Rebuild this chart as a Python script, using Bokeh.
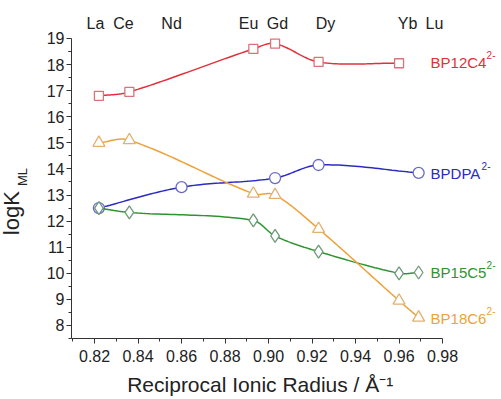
import numpy as np
from bokeh.plotting import figure
from bokeh.layouts import row
from bokeh.models import FixedTicker, Label
from bokeh.embed import file_html
from bokeh.resources import INLINE

# ---- data ----
elements = ["La", "Ce", "Nd", "Eu", "Gd", "Dy", "Yb", "Lu"]
element_label_x = [0.8204, 0.8333, 0.8554, 0.8908, 0.9041, 0.9262, 0.9639, 0.9763]

bp12c4_x = [0.822, 0.836, 0.893, 0.903, 0.923, 0.960]
bp12c4_y = [16.8, 16.95, 18.6, 18.8, 18.1, 18.05]

bpdpa_x = [0.822, 0.860, 0.903, 0.923, 0.969]
bpdpa_y = [12.5, 13.3, 13.65, 14.15, 13.85]

bp15c5_x = [0.822, 0.836, 0.893, 0.903, 0.923, 0.960, 0.969]
bp15c5_y = [12.5, 12.33, 12.03, 11.43, 10.83, 10.0, 10.03]

bp18c6_x = [0.822, 0.836, 0.893, 0.903, 0.923, 0.960, 0.969]
bp18c6_y = [15.0, 15.1, 13.05, 13.0, 11.7, 8.95, 8.3]

x_ticks = [0.82, 0.84, 0.86, 0.88, 0.90, 0.92, 0.94, 0.96, 0.98]
y_ticks = list(range(8, 20))

FONT = "Liberation Sans"
INK = "#222222"
NBSP = "\u00a0"
H = 399
W_TITLE = 30


def smooth(xs, ys, n=30):
    """Cubic Hermite path through the points (drawing only)."""
    xs = np.asarray(xs, float)
    ys = np.asarray(ys, float)
    m = np.zeros_like(ys)
    for i in range(len(xs)):
        if i == 0:
            m[i] = (ys[1] - ys[0]) / (xs[1] - xs[0])
        elif i == len(xs) - 1:
            m[i] = (ys[-1] - ys[-2]) / (xs[-1] - xs[-2])
        else:
            m[i] = (ys[i + 1] - ys[i - 1]) / (xs[i + 1] - xs[i - 1])
    px, py = [], []
    for i in range(len(xs) - 1):
        h = xs[i + 1] - xs[i]
        t = np.linspace(0, 1, n, endpoint=False)
        h00 = 2 * t**3 - 3 * t**2 + 1
        h10 = t**3 - 2 * t**2 + t
        h01 = -2 * t**3 + 3 * t**2
        h11 = t**3 - t**2
        px.extend(xs[i] + t * h)
        py.extend(h00 * ys[i] + h10 * h * m[i] + h01 * ys[i + 1] + h11 * h * m[i + 1])
    px.append(xs[-1])
    py.append(ys[-1])
    return px, py


# ---- narrow strip holding the y-axis title ----
t = figure(width=W_TITLE, height=H, output_backend="svg", toolbar_location=None,
           x_range=(0, W_TITLE), y_range=(0, H), x_axis_type=None,
           y_axis_type=None, min_border=0)
t.outline_line_color = None
t.grid.visible = False
t.add_layout(Label(x=11, y=122, text="logK", angle=np.pi / 2, text_color=INK,
                   text_font=FONT, text_font_size="22px",
                   text_baseline="middle", text_align="left"))
t.add_layout(Label(x=22, y=180, text="ML", angle=np.pi / 2, text_color=INK,
                   text_font=FONT, text_font_size="13px",
                   text_baseline="middle", text_align="left"))

# ---- main plot ----
x0 = 0.8094
p = figure(width=501 - W_TITLE, height=H, output_backend="svg",
           toolbar_location=None,
           x_range=(x0, x0 + 430 / 2175), y_range=(7.5, 7.5 + 338 / 26.09),
           min_border_left=71 - W_TITLE, min_border_right=0, min_border_top=0,
           min_border_bottom=61)
p.outline_line_color = None
p.xgrid.visible = False
p.ygrid.visible = False

for ax in (p.xaxis[0], p.yaxis[0]):
    ax.major_label_text_font = FONT
    ax.major_label_text_font_size = "16px"
    ax.major_label_text_color = INK
    ax.axis_line_color = "#333333"
    ax.major_tick_line_color = "#333333"
    ax.minor_tick_line_color = "#333333"
    ax.major_tick_in = 0
    ax.major_tick_out = 5
    ax.minor_tick_in = 0
    ax.minor_tick_out = 3

p.xaxis[0].bounds = (x0, 0.98)
p.yaxis[0].bounds = (7.5, 19)
p.xaxis[0].ticker = FixedTicker(ticks=x_ticks,
                                minor_ticks=[v + 0.01 for v in [0.80] + x_ticks[:-1]])
p.yaxis[0].ticker = FixedTicker(ticks=y_ticks,
                                minor_ticks=[v - 0.5 for v in y_ticks] + [18.5])
p.xaxis[0].major_label_overrides = {v: f"{v:.2f}" for v in x_ticks}
p.xaxis[0].major_label_standoff = 6
p.yaxis[0].major_label_standoff = 2

p.xaxis[0].axis_label = "Reciprocal Ionic Radius / Å⁻¹" + NBSP * 9
p.xaxis[0].axis_label_text_font = FONT
p.xaxis[0].axis_label_text_font_size = "21px"
p.xaxis[0].axis_label_text_font_style = "normal"
p.xaxis[0].axis_label_text_color = INK
p.xaxis[0].axis_label_standoff = 8

series = [
    (bp12c4_x, bp12c4_y, "#e0303a", "#d9737a", "square", 9, "BP12C4", 56),
    (bpdpa_x, bpdpa_y, "#2a2ac4", "#6b6bc4", "circle", 11, "BPDPA", 51),
    (bp15c5_x, bp15c5_y, "#2e9430", "#6f9a7c", "diamond", 13, "BP15C5", 56),
    (bp18c6_x, bp18c6_y, "#eda23a", "#e2b070", "triangle", 12, "BP18C6", 56),
]
label_y = [18.08, 13.83, 10.03, 8.27]

for (xs, ys, col, mcol, marker, size, name, w), ly in zip(series, label_y):
    sx, sy = smooth(xs, ys)
    p.line(sx, sy, line_color=col, line_width=1.5)
    p.scatter(xs, ys, marker=marker, size=size, fill_color="white",
              line_color=mcol, line_width=1.3)
    p.add_layout(Label(x=0.9745, y=ly, text=name, text_color=col,
                       text_font=FONT, text_font_size="15px",
                       text_baseline="middle", text_align="left"))
    p.add_layout(Label(x=0.9745, y=ly, x_offset=w, y_offset=7, text="2-",
                       text_color=col, text_font=FONT, text_font_size="10px",
                       text_baseline="middle", text_align="left"))

for name, ex in zip(elements, element_label_x):
    p.add_layout(Label(x=ex, y=19.575, text=name, text_color=INK,
                       text_font=FONT, text_font_size="16px",
                       text_baseline="middle", text_align="center"))

layout = row(t, p, spacing=0)
open("out.html", "w").write(file_html(layout, INLINE))
